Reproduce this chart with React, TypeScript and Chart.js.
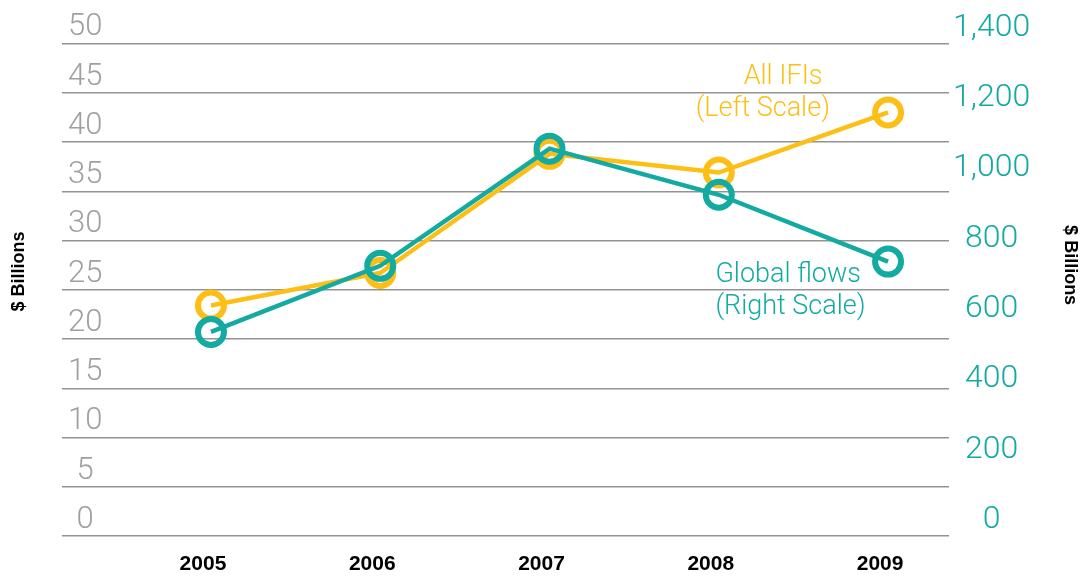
import React, { useEffect, useRef } from "react";
import { Chart, registerables } from "chart.js";

Chart.register(...registerables);

const years = [2005, 2006, 2007, 2008, 2009];
const allIfis = [23.4, 26.7, 38.8, 36.9, 43.0];
const globalFlows = [580, 768, 1101, 970, 780];

const leftMin = 0;
const leftMax = 50;
const leftStep = 5;
const rightMin = 0;
const rightMax = 1400;
const rightStep = 200;

const axisTitle = "$ Billions";

const YELLOW = "#FDBF16";
const TEAL = "#13ABA1";
const GRAY_TEXT = "#A0A0A0";
const GRID = "#939393";

const LIGHT_FONT = "Roboto, 'Liberation Sans', sans-serif";
const BOLD_FONT = "'Liberation Sans', Arial, sans-serif";

type Note = { text: string; x: number; y: number; axis: string; align: CanvasTextAlign; color: string };

const notes: Note[] = [
  { text: "All IFIs", x: 2008.38, y: 46.6, axis: "yLeft", align: "center", color: YELLOW },
  { text: "(Left Scale)", x: 2008.26, y: 43.3, axis: "yLeft", align: "center", color: YELLOW },
  { text: "Global flows", x: 2007.98, y: 740, axis: "yRight", align: "left", color: TEAL },
  { text: "(Right Scale)", x: 2007.98, y: 650, axis: "yRight", align: "left", color: TEAL },
];

const textPlugin = {
  id: "textPlugin",
  afterDraw(chart: any) {
    const { ctx, scales, chartArea } = chart;
    ctx.save();
    ctx.textBaseline = "middle";
    ctx.font = `300 27px ${LIGHT_FONT}`;
    for (const n of notes) {
      const px = scales.x.getPixelForValue(n.x);
      const py = scales[n.axis].getPixelForValue(n.y);
      ctx.fillStyle = n.color;
      ctx.textAlign = n.align;
      ctx.fillText(n.text, px, py);
    }
    const h = chartArea.bottom - chartArea.top;
    ctx.font = `bold 18px ${BOLD_FONT}`;
    ctx.fillStyle = "#000000";
    ctx.textAlign = "center";
    // left title
    ctx.save();
    ctx.translate(19.5, chartArea.top + h * 0.463);
    ctx.rotate(-Math.PI / 2);
    ctx.fillText(axisTitle, 0, 0);
    ctx.restore();
    // right title
    ctx.save();
    ctx.translate(chart.width - 13, chartArea.top + h * 0.45);
    ctx.rotate(Math.PI / 2);
    ctx.fillText(axisTitle, 0, 0);
    ctx.restore();
    ctx.restore();
  },
};

export default function App() {
  const ref = useRef<HTMLCanvasElement | null>(null);

  useEffect(() => {
    if (!ref.current) return;
    const chart = new Chart(ref.current, {
      type: "line",
      data: {
        datasets: [
          {
            label: "All IFIs",
            data: years.map((y, i) => ({ x: y, y: allIfis[i] })),
            yAxisID: "yLeft",
            order: 1,
            borderColor: YELLOW,
            borderWidth: 4.5,
            backgroundColor: "transparent",
            pointBorderColor: YELLOW,
            pointBackgroundColor: "transparent",
            pointRadius: 13,
            pointBorderWidth: 6,
            tension: 0,
          },
          {
            label: "Global flows",
            data: years.map((y, i) => ({ x: y, y: globalFlows[i] })),
            yAxisID: "yRight",
            order: 0,
            borderColor: TEAL,
            borderWidth: 4.5,
            backgroundColor: "transparent",
            pointBorderColor: TEAL,
            pointBackgroundColor: "transparent",
            pointRadius: 13,
            pointBorderWidth: 6,
            tension: 0,
          },
        ],
      },
      options: {
        responsive: false,
        animation: false,
        layout: { padding: { top: 43.5, left: 0, right: 0, bottom: 0 } },
        plugins: {
          legend: { display: false },
          tooltip: { enabled: false },
        },
        scales: {
          x: {
            type: "linear",
            min: 2004.12,
            max: 2009.36,
            grid: { display: false },
            border: { display: false },
            afterBuildTicks: (scale: any) => {
              scale.ticks = years.map((v) => ({ value: v }));
            },
            afterFit: (scale: any) => {
              scale.height = 40;
            },
            ticks: {
              padding: 8,
              labelOffset: -8,
              color: "#000000",
              font: { family: BOLD_FONT, size: 21, weight: "bold" },
              callback: (v: any) => String(v),
            },
          },
          yLeft: {
            type: "linear",
            position: "left",
            min: leftMin,
            max: leftMax,
            border: { display: false },
            grid: { color: GRID, lineWidth: 1.5, drawTicks: false },
            afterFit: (scale: any) => {
              scale.width = 62;
            },
            ticks: {
              stepSize: leftStep,
              mirror: true,
              crossAlign: "center",
              padding: 6,
              labelOffset: -16,
              color: GRAY_TEXT,
              font: { family: LIGHT_FONT, size: 31, weight: "300" },
            },
          },
          yRight: {
            type: "linear",
            position: "right",
            min: rightMin,
            max: rightMax,
            border: { display: false },
            grid: { display: false, drawTicks: false },
            afterFit: (scale: any) => {
              scale.width = 134;
            },
            ticks: {
              stepSize: rightStep,
              crossAlign: "center",
              padding: 4,
              labelOffset: -16,
              color: TEAL,
              font: { family: LIGHT_FONT, size: 32, weight: "300" },
              callback: (v: any) => Number(v).toLocaleString("en-US"),
            },
          },
        },
      },
      plugins: [textPlugin],
    });
    return () => chart.destroy();
  }, []);

  return (
    <div style={{ position: "absolute", left: 0, top: 0, width: 1083, height: 576, background: "#ffffff" }}>
      <canvas ref={ref} width={1083} height={576} />
    </div>
  );
}
